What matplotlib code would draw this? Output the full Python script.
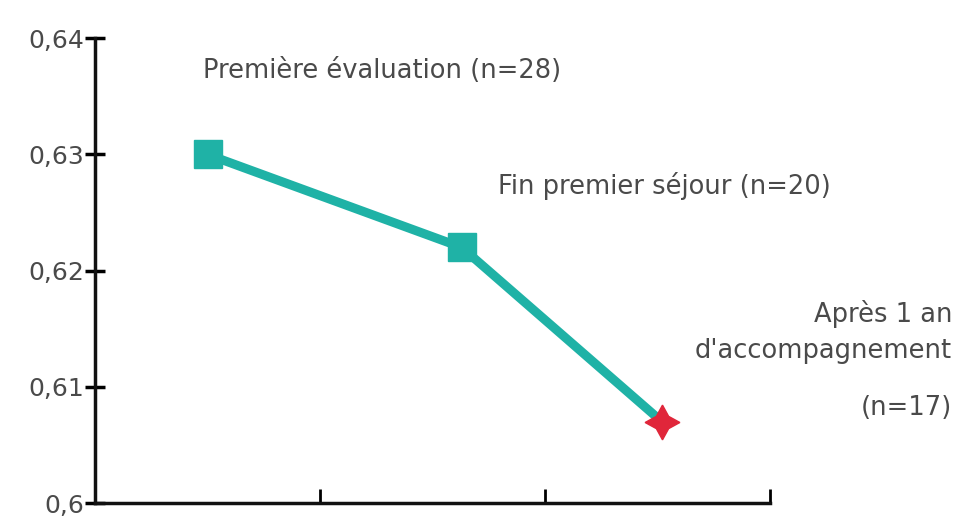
import matplotlib.pyplot as plt
from matplotlib.ticker import FuncFormatter

# data
stages = ["Première évaluation (n=28)", "Fin premier séjour (n=20)",
          "Après 1 an", "d'accompagnement", "(n=17)"]
x_pos = [0.5, 1.63, 2.52]
scores = [0.630, 0.622, 0.607]
y_ticks = [0.60, 0.61, 0.62, 0.63, 0.64]
x_ticks = [1, 2, 3]

teal = '#1fb2a6'
red = '#e0263a'
grey = '#4a4a4a'

fig = plt.figure(figsize=(9.6, 5.17), dpi=100)
ax = fig.add_axes([0.099, 0.027, 0.703, 0.899])

ax.plot(x_pos, scores, color=teal, lw=6.5, zorder=2)
ax.plot(x_pos[:2], scores[:2], 's', color=teal, ms=20, zorder=3)
ax.plot(x_pos[2], scores[2], marker=(4, 1, 0), color=red, ms=25, zorder=3)

ax.set_xlim(0, 3)
ax.set_ylim(0.6, 0.64)
ax.set_yticks(y_ticks)
ax.yaxis.set_major_formatter(FuncFormatter(
    lambda v, p: ('%g' % round(v, 2)).replace('.', ',')))
ax.set_xticks(x_ticks)
ax.set_xticklabels([])

for side in ['top', 'right']:
    ax.spines[side].set_visible(False)
for side in ['left', 'bottom']:
    ax.spines[side].set_linewidth(2.5)
    ax.spines[side].set_color('#111111')
ax.tick_params(axis='y', direction='inout', length=14, width=2.5,
               labelsize=18, labelcolor=grey, pad=1)
ax.tick_params(axis='x', direction='in', length=10, width=2)

# stage labels
fs = 18.5
ax.text(0.48, 0.6372, stages[0], fontsize=fs, color=grey, va='center')
ax.text(1.79, 0.6273, stages[1], fontsize=fs, color=grey, va='center')
ax.text(3.81, 0.6163, stages[2], fontsize=fs, color=grey, va='center', ha='right')
ax.text(3.81, 0.6131, stages[3], fontsize=fs, color=grey, va='center', ha='right')
ax.text(3.81, 0.6082, stages[4], fontsize=fs, color=grey, va='center', ha='right')

fig.savefig('out.png', dpi=100)
